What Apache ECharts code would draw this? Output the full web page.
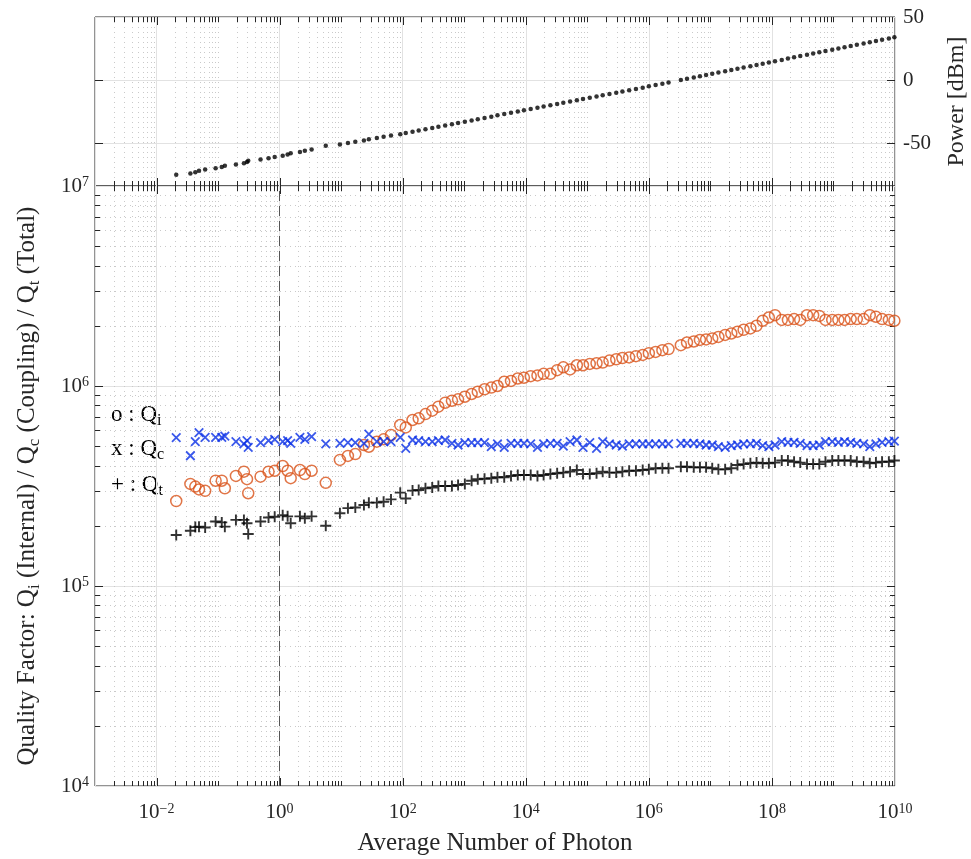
<!DOCTYPE html>
<html>
<head>
<meta charset="utf-8">
<script src="https://cdn.jsdelivr.net/npm/echarts@6/dist/echarts.min.js"></script>
<style>
html, body { margin: 0; padding: 0; background: #fff; }
#chart { width: 971px; height: 859px; }
</style>
</head>
<body>
<div id="chart"></div>
<script>
// log10 of the average photon number, one entry per power step
const photonExp = [
  -1.68, -1.45, -1.37, -1.31, -1.21, -1.04, -0.94, -0.89, -0.71, -0.58, -0.53, -0.51,
  -0.31, -0.18, -0.08, 0.05, 0.13, 0.18, 0.33, 0.41, 0.52, 0.75, 0.98, 1.11,
  1.23, 1.37, 1.45, 1.58, 1.69, 1.81, 1.96, 2.05,
  2.16, 2.26, 2.37, 2.48, 2.58, 2.69, 2.80, 2.90, 3.01, 3.12, 3.22, 3.33, 3.44, 3.54,
  3.65, 3.76, 3.87, 3.97, 4.08, 4.19, 4.29, 4.40, 4.51, 4.61, 4.72, 4.83, 4.93, 5.04,
  5.15, 5.25, 5.36, 5.47, 5.57, 5.68, 5.79, 5.90, 6.00, 6.11, 6.22, 6.32,
  6.52, 6.62, 6.73, 6.83, 6.93, 7.03, 7.13, 7.24, 7.34, 7.44, 7.54, 7.65, 7.75, 7.85,
  7.95, 8.05, 8.16, 8.26, 8.36, 8.46, 8.57, 8.67, 8.77, 8.87, 8.98, 9.08, 9.18, 9.28,
  9.38, 9.49, 9.59, 9.69, 9.79, 9.90, 9.99
];

// input power [dBm]
const powerDbm = [
  -75, -74, -73, -72, -71, -70, -69, -68, -67, -66, -65, -64, -63, -62, -61, -60,
  -59, -58, -57, -56, -55, -52, -51, -50, -49, -48, -47, -46, -45, -44, -43, -42,
  -41, -40, -39, -38, -37, -36, -35, -34, -33, -32, -31, -30, -29, -28, -27, -26,
  -25, -24, -23, -22, -21, -20, -19, -18, -17, -16, -15, -14, -13, -12, -11, -10,
  -9, -8, -7, -6, -5, -4, -3, -2,
  0, 1, 2, 3, 4, 5, 6, 7, 8, 9, 10, 11, 12, 13, 14, 15, 16, 17, 18, 19, 20, 21,
  22, 23, 24, 25, 26, 27, 28, 29, 30, 31, 32, 33, 34
];

// quality factors, in units of 1e5
const qInternal = [
  2.66, 3.24, 3.14, 3.04, 2.99, 3.36, 3.36, 3.08, 3.55, 3.73, 3.42, 2.91, 3.52, 3.73,
  3.77, 3.98, 3.77, 3.46, 3.80, 3.63, 3.77, 3.28, 4.27, 4.47, 4.57, 5.07, 4.97, 5.27,
  5.41, 5.69, 6.38, 6.21,
  6.76, 6.89, 7.24, 7.53, 7.88, 8.25, 8.44, 8.58, 8.84, 9.12, 9.37, 9.63, 9.82, 10.0,
  10.5, 10.6, 10.9, 11.0, 11.2, 11.3, 11.5, 11.5, 12.0, 12.4, 12.1, 12.7, 12.7, 12.9,
  13.0, 13.1, 13.4, 13.6, 13.8, 13.9, 14.1, 14.3, 14.6, 14.8, 15.1, 15.3,
  16.0, 16.5, 16.7, 17.0, 17.1, 17.3, 17.6, 18.0, 18.3, 18.7, 19.1, 19.4, 20.0, 21.2,
  22.0, 22.6, 21.4, 21.4, 21.6, 21.4, 22.6, 22.6, 22.4, 21.4, 21.4, 21.4, 21.4, 21.6,
  21.6, 21.6, 22.6, 22.2, 21.6, 21.4, 21.2
];
const qCoupling = [
  5.52, 4.48, 5.27, 5.84, 5.54, 5.54, 5.54, 5.62, 5.27, 5.13, 5.33, 4.93, 5.21, 5.33,
  5.41, 5.27, 5.33, 5.17, 5.54, 5.41, 5.58, 5.13, 5.17, 5.21, 5.21, 5.17, 5.75, 5.27,
  5.27, 5.27, 5.54, 4.88,
  5.37, 5.33, 5.27, 5.27, 5.33, 5.37, 5.17, 5.07, 5.21, 5.21, 5.21, 5.21, 4.97, 5.13,
  4.93, 5.17, 5.17, 5.17, 5.13, 4.93, 5.13, 5.17, 5.17, 5.00, 5.27, 5.37, 4.93, 5.21,
  4.88, 5.27, 5.13, 5.07, 5.00, 5.13, 5.13, 5.13, 5.13, 5.13, 5.13, 5.13,
  5.17, 5.17, 5.17, 5.13, 5.07, 5.07, 4.97, 4.93, 5.03, 5.07, 5.13, 5.13, 5.17, 5.03,
  4.97, 5.07, 5.27, 5.23, 5.23, 5.17, 5.03, 5.03, 5.07, 5.27, 5.27, 5.23, 5.27, 5.23,
  5.17, 5.13, 4.97, 5.13, 5.23, 5.27, 5.30
];
const qTotal = [
  1.80, 1.89, 1.97, 1.98, 1.96, 2.10, 2.08, 1.98, 2.14, 2.14, 2.06, 1.82, 2.10, 2.20,
  2.22, 2.26, 2.23, 2.06, 2.23, 2.18, 2.23, 2.00, 2.31, 2.45, 2.47, 2.54, 2.61, 2.61,
  2.64, 2.71, 2.93, 2.74,
  3.00, 3.02, 3.08, 3.11, 3.16, 3.16, 3.16, 3.20, 3.24, 3.36, 3.42, 3.44, 3.46, 3.50,
  3.50, 3.55, 3.59, 3.59, 3.59, 3.55, 3.59, 3.63, 3.66, 3.69, 3.73, 3.80, 3.63, 3.63,
  3.66, 3.73, 3.69, 3.69, 3.73, 3.77, 3.77, 3.80, 3.83, 3.88, 3.88, 3.88,
  3.95, 3.95, 3.92, 3.92, 3.92, 3.88, 3.83, 3.83, 3.88, 4.03, 4.07, 4.11, 4.14, 4.11,
  4.11, 4.14, 4.24, 4.24, 4.18, 4.14, 4.07, 4.07, 4.07, 4.18, 4.24, 4.24, 4.24, 4.24,
  4.18, 4.18, 4.11, 4.14, 4.18, 4.18, 4.24
];

// tick labels
const xLabelExps = [-2, 0, 2, 4, 6, 8, 10];
const qLabelExps = [4, 5, 6, 7];
const powerLabels = [-50, 0, 50];

const AXIS = '#262626';
const MAJOR_GRID = '#e2e2e2';
const MINOR_GRID = '#c9c9c9';
const ORANGE = '#D95319';
const BLUE = '#0a30e6';
const FONT = 'Liberation Serif';

// tick positions (major ones every two decades, minor 2..9 and odd decades)
const xMajor = [1e-2, 1, 1e2, 1e4, 1e6, 1e8];
const xMinor = [];
for (let n = -3; n < 10; n++) {
  for (let k = 1; k < 10; k++) {
    if (k === 1 && (n % 2 === 0 || n === -3)) continue;
    xMinor.push(k * Math.pow(10, n));
  }
}
const qMajor = [1e5, 1e6];
const qMinor = [];
for (let n = 4; n < 7; n++) {
  for (let k = 2; k < 10; k++) qMinor.push(k * Math.pow(10, n));
}
const powerMajor = [-50, 0];

const Q_UNIT = 1e5;
const toPoints = (vals, unit) => photonExp.map((e, i) => [Math.pow(10, e), vals[i] * unit]);

function vTicks(len, withGrid) {
  return function (params, api) {
    const cs = params.coordSys;
    const x = Math.round(api.coord([api.value(0), api.value(1)])[0]) + 0.5;
    const top = cs.y, bottom = cs.y + cs.height;
    const children = [];
    if (withGrid) {
      children.push({ type: 'line', shape: { x1: x, y1: top, x2: x, y2: bottom },
        style: { stroke: MINOR_GRID, lineWidth: 1, lineDash: [1, 4] } });
    }
    children.push({ type: 'line', shape: { x1: x, y1: bottom, x2: x, y2: bottom - len }, style: { stroke: AXIS, lineWidth: 1 } });
    children.push({ type: 'line', shape: { x1: x, y1: top, x2: x, y2: top + len }, style: { stroke: AXIS, lineWidth: 1 } });
    return { type: 'group', children: children };
  };
}

function hTicks(len, withGrid) {
  return function (params, api) {
    const cs = params.coordSys;
    const y = Math.round(api.coord([api.value(0), api.value(1)])[1]) + 0.5;
    const left = cs.x, right = cs.x + cs.width;
    const children = [];
    if (withGrid) {
      children.push({ type: 'line', shape: { x1: left, y1: y, x2: right, y2: y },
        style: { stroke: MINOR_GRID, lineWidth: 1, lineDash: [1, 4] } });
    }
    children.push({ type: 'line', shape: { x1: left, y1: y, x2: left + len, y2: y }, style: { stroke: AXIS, lineWidth: 1 } });
    children.push({ type: 'line', shape: { x1: right, y1: y, x2: right - len, y2: y }, style: { stroke: AXIS, lineWidth: 1 } });
    return { type: 'group', children: children };
  };
}

function tickSeries(grid, data, render) {
  return {
    type: 'custom', xAxisIndex: grid, yAxisIndex: grid, silent: true, z: 1,
    renderItem: render, data: data, encode: { x: 0, y: 1 }
  };
}

const supRich = {
  b: { fontFamily: FONT, fontSize: 21, color: AXIS, lineHeight: 21, verticalAlign: 'bottom' },
  p: { fontFamily: FONT, fontSize: 14, color: AXIS, lineHeight: 14, verticalAlign: 'top', padding: [0, 0, 10, 0] }
};
const subRich = (color, size) => ({
  m: { fontFamily: FONT, fontSize: size, color: color, lineHeight: size, verticalAlign: 'top' },
  s: { fontFamily: FONT, fontSize: Math.round(size * 0.68), color: color, lineHeight: Math.round(size * 0.68), verticalAlign: 'top', padding: [Math.round(size * 0.45), 0, 0, 0] }
});
const expText = (e) => '{b|10}{p|' + (e < 0 ? '\u2212' + (-e) : e) + '}';

const chart = echarts.init(document.getElementById('chart'));
chart.setOption({
  animation: false,
  backgroundColor: '#fff',
  grid: [
    { left: 95, right: 76, top: 17, height: 169, outerBoundsMode: 'none', show: true, borderColor: AXIS, borderWidth: 1, backgroundColor: '#fff' },
    { left: 95, right: 76, top: 186, height: 600, outerBoundsMode: 'none', show: true, borderColor: AXIS, borderWidth: 1, backgroundColor: '#fff' }
  ],
  xAxis: [
    {
      gridIndex: 0, type: 'log', logBase: 100, min: 1e-3, max: 1e10,
      axisLine: { show: false }, axisTick: { show: false }, axisLabel: { show: false },
      splitLine: { show: true, lineStyle: { color: MAJOR_GRID, width: 1 } }
    },
    {
      gridIndex: 1, type: 'log', logBase: 100, min: 1e-3, max: 1e10,
      name: 'Average Number of Photon', nameLocation: 'middle', nameGap: 43,
      nameTextStyle: { fontFamily: FONT, fontSize: 25, color: AXIS },
      axisLine: { show: false }, axisTick: { show: false },
      axisLabel: {
        interval: 0, margin: 16, rich: supRich,
        formatter: (v) => {
          const e = Math.round(Math.log10(v));
          return xLabelExps.includes(e) ? expText(e) : '';
        }
      },
      splitLine: { show: true, lineStyle: { color: MAJOR_GRID, width: 1 } }
    }
  ],
  yAxis: [
    {
      gridIndex: 0, type: 'value', position: 'right', min: -84, max: 50, splitNumber: 3,
      name: 'Power [dBm]', nameLocation: 'middle', nameRotate: 90, nameGap: 50,
      nameTextStyle: { fontFamily: FONT, fontSize: 24, color: AXIS },
      axisLine: { show: false }, axisTick: { show: false },
      axisLabel: {
        margin: 8, fontFamily: FONT, fontSize: 21, color: AXIS,
        formatter: (v) => powerLabels.includes(v) ? String(v) : ''
      },
      splitLine: { show: true, lineStyle: { color: MAJOR_GRID, width: 1 } }
    },
    {
      gridIndex: 1, type: 'log', min: 1e4, max: 1e7,
      name: '{m|Quality Factor: Q}{s|i}{m| (Internal) / Q}{s|c}{m| (Coupling) / Q}{s|t}{m| (Total)}',
      nameLocation: 'middle', nameRotate: 90, nameGap: 55,
      nameTextStyle: { rich: subRich(AXIS, 25) },
      axisLine: { show: false }, axisTick: { show: false },
      axisLabel: {
        margin: 6, rich: supRich,
        formatter: (v) => {
          const e = Math.round(Math.log10(v));
          return qLabelExps.includes(e) ? expText(e) : '';
        }
      },
      splitLine: { show: true, lineStyle: { color: MAJOR_GRID, width: 1 } }
    }
  ],
  graphic: [
    { type: 'text', left: 111, top: 403, style: { text: '{m|o : Q}{s|i}', rich: subRich(ORANGE, 23) } },
    { type: 'text', left: 111, top: 437, style: { text: '{m|x : Q}{s|c}', rich: subRich(BLUE, 23) } },
    { type: 'text', left: 111, top: 473, style: { text: '{m|+ : Q}{s|t}', rich: subRich('#000', 23) } }
  ],
  series: [
    tickSeries(0, xMinor.map(v => [v, 0]), vTicks(5, true)),
    tickSeries(0, xMajor.map(v => [v, 0]), vTicks(8, false)),
    tickSeries(0, powerMajor.map(v => [1, v]), hTicks(8, false)),
    tickSeries(1, xMinor.map(v => [v, 1e5]), vTicks(5, true)),
    tickSeries(1, xMajor.map(v => [v, 1e5]), vTicks(8, false)),
    tickSeries(1, qMinor.map(v => [1, v]), hTicks(5, true)),
    tickSeries(1, qMajor.map(v => [1, v]), hTicks(8, false)),
    {
      name: 'Power', type: 'scatter', xAxisIndex: 0, yAxisIndex: 0, z: 3,
      symbol: 'circle', symbolSize: 4.5, itemStyle: { color: '#000' },
      data: toPoints(powerDbm, 1)
    },
    {
      name: 'Qi', type: 'scatter', xAxisIndex: 1, yAxisIndex: 1, z: 3,
      symbol: 'circle', symbolSize: 11,
      itemStyle: { color: 'rgba(0,0,0,0)', borderColor: ORANGE, borderWidth: 1.5 },
      data: toPoints(qInternal, Q_UNIT),
      markLine: {
        silent: true, symbol: 'none', label: { show: false },
        lineStyle: { color: '#555', type: [10, 5], width: 1 },
        data: [{ xAxis: 1 }]
      }
    },
    {
      name: 'Qc', type: 'scatter', xAxisIndex: 1, yAxisIndex: 1, z: 3,
      symbol: 'path://M0,0L10,10M10,0L0,10', symbolSize: 8.5,
      itemStyle: { color: 'rgba(0,0,0,0)', borderColor: BLUE, borderWidth: 1.8 },
      data: toPoints(qCoupling, Q_UNIT)
    },
    {
      name: 'Qt', type: 'scatter', xAxisIndex: 1, yAxisIndex: 1, z: 3,
      symbol: 'path://M5,0L5,10M0,5L10,5', symbolSize: 11,
      itemStyle: { color: 'rgba(0,0,0,0)', borderColor: '#000', borderWidth: 1.9 },
      data: toPoints(qTotal, Q_UNIT)
    }
  ]
});
</script>
</body>
</html>
